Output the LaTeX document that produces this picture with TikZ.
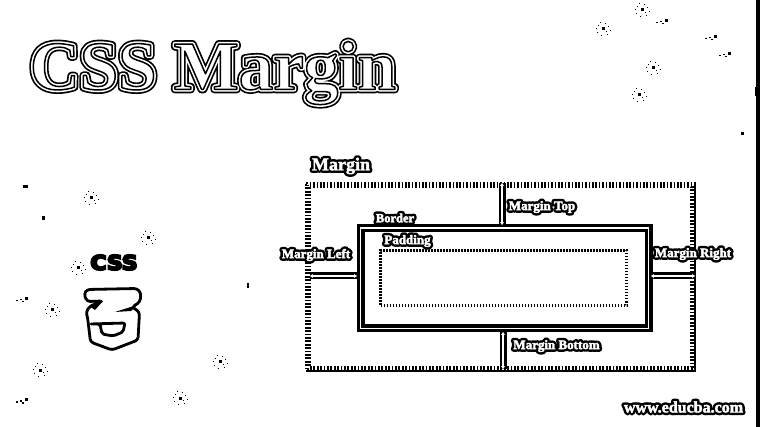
\documentclass[tikz,border=0pt]{standalone}
\usepackage{fontspec}
\setmainfont{Liberation Serif}
\newfontfamily\logofont{DejaVu Sans}
\newcommand{\strokedtext}[3]{\special{pdf:code q 2 Tr #1 w #2}#3\special{pdf:code Q}}
\newcommand{\blobtext}[1]{\makebox[0pt]{\strokedtext{5.4}{0 G 0 g 1 j}{#1}}\makebox[0pt]{\strokedtext{0.4}{1 G 1 g}{#1}}}
\newcommand{\titletext}[1]{\makebox[0pt]{\strokedtext{8}{0 G 0 g 1 j}{#1}}\makebox[0pt]{\strokedtext{4.6}{1 G 1 g 1 j}{#1}}\makebox[0pt]{\strokedtext{1.5}{0 G 1 g 1 j}{#1}}}
\newcommand{\speck}[2]{\begin{scope}[shift={(#1,#2)}]
\fill (-1.5,-1.5) rectangle (1.5,1.5);
\foreach \a/\b in {-5/-4,-3/-7,2/-6,5/-3,7/1,4/5,-2/6,-6/3,-7/-1,3/2}{\fill (\a,\b) rectangle +(1,1);}
\end{scope}}
\newcommand{\minispeck}[2]{\begin{scope}[shift={(#1,#2)}]
\fill (0,0) rectangle (3,3);
\foreach \a/\b in {-5/2,-9/3,-3/4}{\fill (\a,\b) rectangle +(1.5,1.5);}
\end{scope}}
\usetikzlibrary{arrows.meta}
\tikzset{
 x=1pt,y=-1pt,
 checkrow/.style={line width=1.7pt,dash pattern=on 1.7pt off 1.7pt},
 solidedge/.style={line width=2pt,line join=round},
 borderrect/.style={draw,rectangle,line width=3.3pt,double=white,double distance=1.4pt,inner sep=0pt,outer sep=0pt},
 paddingrect/.style={draw,rectangle,line width=2.8pt,dash pattern=on 1.2pt off 1.8pt,inner sep=0pt,outer sep=0pt},
 marginrect/.style={rectangle,inner sep=0pt,outer sep=0pt},
 arrowblack/.style={line width=7pt},
 arrowwhite/.style={white,line width=1.2pt,<->,>={Stealth[length=3pt,width=4pt]}},
 blob/.style={inner sep=0pt,font=\bfseries\fontsize{13}{14}\selectfont},
 shieldline/.style={line width=2.8pt,line join=round}
}
\begin{document}
\begin{tikzpicture}
\useasboundingbox (0,0) rectangle (760,427);
\fill[white] (0,0) rectangle (760,427);
\fill (756,0) rectangle (760,427);
\fill (755,87) rectangle (757,96);
% title
\node[inner sep=0pt,font=\bfseries\fontsize{69}{70}\selectfont] (title) at (213,73) {\titletext{CSS Margin}};
% margin box
\node[marginrect,minimum width=385pt,minimum height=184pt] (marginbox) at (500.5,277) {};
\foreach \d/\ph in {-1.7/0,0/1.7,1.7/0}{
 \draw[checkrow,dash phase=\ph pt] ([shift={(-\d,-\d)}]marginbox.north west) -- ([shift={(\d,-\d)}]marginbox.north east) -- ([shift={(\d,\d)}]marginbox.south east) -- ([shift={(-\d,\d)}]marginbox.south west) -- cycle;
}
\draw[solidedge] ([shift={(2,-2)}]marginbox.north east) -- ([shift={(2,2)}]marginbox.south east) -- ([shift={(-2,2)}]marginbox.south west);
% border box
\node[borderrect,minimum width=288pt,minimum height=100.5pt] (borderbox) at (504.5,278.25) {};
% padding box
\node[paddingrect,minimum width=246pt,minimum height=55pt] (paddingbox) at (503.5,278) {};
% arrows
\coordinate (topA) at (502,183);
\coordinate (topB) at (502,225);
\coordinate (botA) at (503,332);
\coordinate (botB) at (503,369);
\coordinate (leftA) at (310,276);
\coordinate (leftB) at (357,276);
\coordinate (rightA) at (651,276);
\coordinate (rightB) at (695,276);
\foreach \p/\q in {topA/topB,botA/botB,leftA/leftB,rightA/rightB}{
 \draw[arrowblack] (\p) -- (\q);
 \draw[arrowwhite] (\p) -- (\q);
}
% labels
\node[blob,font=\bfseries\fontsize{18}{19}\selectfont] (lmargin) at (341,166) {\blobtext{Margin}};
\node[blob,font=\bfseries\fontsize{12.5}{13}\selectfont] (lborder) at (395,218) {\blobtext{Border}};
\node[blob] (lpadding) at (407.5,241) {\blobtext{Padding}};
\node[blob] (lleft) at (316,255) {\blobtext{Margin Left}};
\node[blob] (ltop) at (542,207) {\blobtext{Margin Top}};
\node[blob] (lright) at (693,254) {\blobtext{Margin Right}};
\node[blob] (lbottom) at (556.5,346) {\blobtext{Margin Bottom}};
\node[blob,font=\bfseries\fontsize{16}{17}\selectfont] (lweb) at (683.5,407) {\blobtext{www.educba.com}};
% logo
\node[inner sep=0pt,font=\logofont\bfseries\fontsize{20}{20}\selectfont,xscale=1.1] (csslogo) at (114,262.5) {\makebox[0pt]{\strokedtext{2}{0 G 0 g}{CSS}}};
\draw[shieldline,rounded corners=3pt] (84,294) -- (87,289.5) -- (137,288.5) -- (141,293) -- (140,302) -- (132,307) -- (139.5,312) -- (138,340) -- (112,350) -- (90.5,342) -- (87.5,317) -- (86,312) -- (90,306) -- (103,301) -- (87,301.5) -- cycle;
\fill (115,312) -- (137,305) -- (131,311) -- cycle;
\fill (89,306) -- (103,301) -- (95,310) -- cycle;
\draw[shieldline,rounded corners=2pt] (90,324) -- (100,324) -- (102,334) -- (113,336) -- (123,332) -- (125,323) -- cycle;
% specks
\fill (23,185) rectangle (28,188);
\fill (42,216) rectangle (45,220);
\fill (247,283) rectangle (249,288);
\fill (741,132) rectangle (744,135);
\speck{91}{198}\speck{148}{238}\speck{78}{268}\speck{52}{310}\speck{40}{370}\speck{220}{362}\speck{180}{398}
\speck{642}{10}\speck{603}{29}\speck{653}{68}\speck{639}{95}
\minispeck{25}{297}\minispeck{25}{398}\minispeck{665}{19}\minispeck{714}{35}\minispeck{728}{52}
\end{tikzpicture}
\end{document}
